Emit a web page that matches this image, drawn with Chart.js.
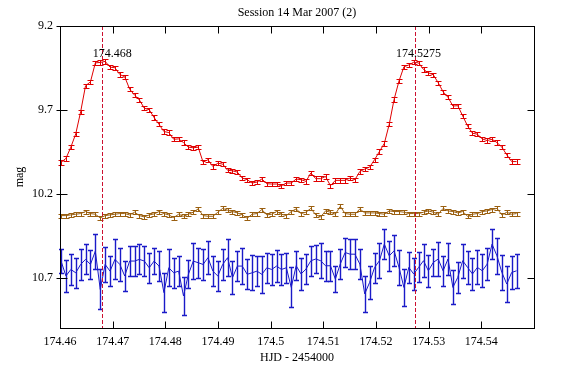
<!DOCTYPE html>
<html>
<head>
<meta charset="utf-8">
<script src="https://cdn.jsdelivr.net/npm/chart.js@4/dist/chart.umd.min.js"></script>
<style>
  body { margin: 0; background: #fff; }
  canvas { display: block; }
</style>
</head>
<body>
<canvas id="lc" width="567" height="367"></canvas>
<script>
// observation times (HJD - 2454000), shared by all three stars
const times = [
  174.46020, 174.46113, 174.46206, 174.46299, 174.46392, 174.46485, 174.46578, 174.46671, 174.46764, 174.46857,
  174.46950, 174.47043, 174.47136, 174.47229, 174.47322, 174.47415, 174.47508, 174.47601, 174.47694, 174.47787,
  174.47880, 174.47973, 174.48066, 174.48159, 174.48252, 174.48345, 174.48438, 174.48531, 174.48624, 174.48717,
  174.48810, 174.48903, 174.48996, 174.49089, 174.49182, 174.49275, 174.49368, 174.49461, 174.49554, 174.49647,
  174.49740, 174.49833, 174.49926, 174.50019, 174.50112, 174.50205, 174.50298, 174.50391, 174.50484, 174.50577,
  174.50670, 174.50763, 174.50856, 174.50949, 174.51042, 174.51135, 174.51228, 174.51321, 174.51414, 174.51507,
  174.51600, 174.51693, 174.51786, 174.51879, 174.51972, 174.52065, 174.52158, 174.52251, 174.52344, 174.52437,
  174.52530, 174.52623, 174.52716, 174.52809, 174.52902, 174.52995, 174.53088, 174.53181, 174.53274, 174.53367,
  174.53460, 174.53553, 174.53646, 174.53739, 174.53832, 174.53925, 174.54018, 174.54111, 174.54204, 174.54297,
  174.54390, 174.54483, 174.54576, 174.54669
];

// variable (red)
const varMag = [
  10.013, 9.989, 9.922, 9.843, 9.711, 9.556, 9.533, 9.420, 9.417, 9.411,
  9.445, 9.449, 9.489, 9.503, 9.576, 9.612, 9.641, 9.690, 9.699, 9.746,
  9.786, 9.829, 9.835, 9.875, 9.873, 9.895, 9.922, 9.926, 9.922, 10.012,
  9.997, 10.038, 10.018, 10.023, 10.060, 10.063, 10.071, 10.106, 10.116, 10.136,
  10.130, 10.112, 10.140, 10.142, 10.142, 10.152, 10.136, 10.136, 10.112, 10.116,
  10.126, 10.076, 10.110, 10.110, 10.097, 10.152, 10.120, 10.120, 10.120, 10.106,
  10.116, 10.067, 10.053, 10.041, 9.997, 9.948, 9.900, 9.786, 9.637, 9.528,
  9.443, 9.432, 9.416, 9.420, 9.459, 9.479, 9.491, 9.538, 9.592, 9.625,
  9.677, 9.675, 9.736, 9.796, 9.839, 9.845, 9.873, 9.883, 9.875, 9.895,
  9.922, 9.968, 10.008, 10.008
];
const varErr = 0.013;

// comparison (brown)
const compMag = [
  10.330, 10.330, 10.326, 10.322, 10.318, 10.306, 10.318, 10.322, 10.344, 10.330,
  10.326, 10.322, 10.318, 10.318, 10.326, 10.310, 10.330, 10.338, 10.326, 10.320,
  10.306, 10.318, 10.326, 10.342, 10.322, 10.334, 10.322, 10.310, 10.290, 10.330,
  10.334, 10.334, 10.310, 10.287, 10.298, 10.306, 10.314, 10.326, 10.346, 10.322,
  10.318, 10.294, 10.326, 10.322, 10.306, 10.322, 10.330, 10.306, 10.290, 10.318,
  10.310, 10.287, 10.326, 10.338, 10.302, 10.310, 10.322, 10.275, 10.318, 10.322,
  10.322, 10.290, 10.314, 10.314, 10.314, 10.318, 10.322, 10.302, 10.306, 10.306,
  10.310, 10.318, 10.318, 10.318, 10.310, 10.302, 10.310, 10.322, 10.287, 10.302,
  10.306, 10.314, 10.306, 10.334, 10.322, 10.318, 10.306, 10.302, 10.294, 10.287,
  10.326, 10.310, 10.322, 10.318
];
const compErr = 0.012;

// check star (blue)
const checkMag = [
  10.601, 10.690, 10.651, 10.671, 10.621, 10.591, 10.621, 10.542, 10.770, 10.621,
  10.661, 10.591, 10.621, 10.690, 10.601, 10.601, 10.591, 10.601, 10.641, 10.601,
  10.631, 10.789, 10.641, 10.671, 10.661, 10.809, 10.680, 10.601, 10.611, 10.621,
  10.581, 10.661, 10.690, 10.621, 10.581, 10.700, 10.631, 10.631, 10.680, 10.671,
  10.661, 10.680, 10.641, 10.651, 10.631, 10.651, 10.641,
  10.758, 10.629, 10.678, 10.649, 10.599, 10.589, 10.599, 10.629, 10.629, 10.708,
  10.619, 10.550, 10.560, 10.560, 10.619, 10.797, 10.728, 10.640, 10.599, 10.500,
  10.570, 10.540, 10.639, 10.758, 10.639, 10.678, 10.639, 10.599, 10.659, 10.609,
  10.589, 10.659, 10.589, 10.758, 10.698, 10.599, 10.639, 10.678, 10.639, 10.659,
  10.619, 10.500, 10.570, 10.669, 10.738, 10.669, 10.659
];
const checkErr = [
  0.070, 0.094, 0.090, 0.089, 0.090, 0.089, 0.084, 0.104, 0.119, 0.104,
  0.090, 0.119, 0.100, 0.089, 0.090, 0.089, 0.090, 0.089, 0.090, 0.079,
  0.090, 0.114, 0.109, 0.090, 0.090, 0.114, 0.084, 0.109, 0.090, 0.090,
  0.099, 0.090, 0.089, 0.090, 0.109, 0.099, 0.090, 0.109, 0.090, 0.104,
  0.090, 0.109, 0.090, 0.090, 0.094, 0.090, 0.090,
  0.119, 0.087, 0.094, 0.089, 0.089, 0.084, 0.105, 0.089, 0.089, 0.077,
  0.089, 0.089, 0.089, 0.089, 0.089, 0.105, 0.097, 0.089, 0.104, 0.090,
  0.089, 0.093, 0.105, 0.109, 0.092, 0.097, 0.089, 0.097, 0.094, 0.082,
  0.101, 0.089, 0.094, 0.101, 0.094, 0.101, 0.099, 0.094, 0.101, 0.099,
  0.095, 0.089, 0.109, 0.104, 0.109, 0.097, 0.101
];

// times of maximum, marked with dashed lines
const maxTimes = [174.468, 174.5275];
const maxLabels = ['174.468', '174.5275'];

const xTicks = [174.46, 174.47, 174.48, 174.49, 174.5, 174.51, 174.52, 174.53, 174.54];
const yTicks = [9.2, 9.7, 10.2, 10.7];

const FONT = { family: "'Liberation Serif', 'Times New Roman', serif", size: 12, weight: 'normal' };

function pts(mags) {
  return times.map((t, i) => ({ x: t, y: mags[i] }));
}

// vertical error bars with small caps
const errorBars = {
  id: 'errorBars',
  afterDatasetsDraw(chart) {
    const { ctx, scales: { x, y } } = chart;
    chart.data.datasets.forEach(ds => {
      if (ds.errors === undefined) return;
      ctx.save();
      ctx.strokeStyle = ds.borderColor;
      ctx.lineWidth = ds.errWidth || 1;
      ds.data.forEach((p, i) => {
        const e = Array.isArray(ds.errors) ? ds.errors[i] : ds.errors;
        const px = Math.round(x.getPixelForValue(p.x)) + 0.5;
        const y1 = Math.round(y.getPixelForValue(p.y - e)) + 0.5;
        const y2 = Math.round(y.getPixelForValue(p.y + e)) + 0.5;
        const c = ds.capWidth || 2.5;
        ctx.beginPath();
        ctx.moveTo(px, y1); ctx.lineTo(px, y2);
        ctx.moveTo(px - c, y1); ctx.lineTo(px + c, y1);
        ctx.moveTo(px - c, y2); ctx.lineTo(px + c, y2);
        ctx.stroke();
      });
      ctx.restore();
    });
  }
};

// frame, inward ticks, maxima markers
const frame = {
  id: 'frame',
  afterDraw(chart) {
    const { ctx, chartArea: a, scales: { x, y } } = chart;
    ctx.save();

    // dashed lines at maxima
    ctx.strokeStyle = '#cc1030';
    ctx.lineWidth = 1;
    ctx.setLineDash([4, 2]);
    maxTimes.forEach(t => {
      const px = Math.round(x.getPixelForValue(t)) + 0.5;
      ctx.beginPath();
      ctx.moveTo(px, a.top);
      ctx.lineTo(px, a.bottom);
      ctx.stroke();
    });
    ctx.setLineDash([]);

    ctx.fillStyle = '#000';
    ctx.font = FONT.size + 'px ' + FONT.family;
    ctx.textAlign = 'center';
    ctx.textBaseline = 'middle';
    const labelShift = [10, 3];
    maxTimes.forEach((t, i) => {
      ctx.fillText(maxLabels[i], x.getPixelForValue(t) + labelShift[i], a.top + 28);
    });

    ctx.strokeStyle = '#000';
    ctx.lineWidth = 1;
    const L = Math.round(a.left) + 0.5, R = Math.round(a.right) + 0.5;
    const T = Math.round(a.top) + 0.5, B = Math.round(a.bottom) + 0.5;
    ctx.strokeRect(L, T, R - L, B - T);

    ctx.beginPath();
    x.ticks.forEach(tk => {
      const px = Math.round(x.getPixelForValue(tk.value)) + 0.5;
      ctx.moveTo(px, T); ctx.lineTo(px, T + 7);
      ctx.moveTo(px, B); ctx.lineTo(px, B - 7);
    });
    y.ticks.forEach(tk => {
      const py = Math.round(y.getPixelForValue(tk.value)) + 0.5;
      ctx.moveTo(L - 4, py); ctx.lineTo(L + 7, py);
      ctx.moveTo(R, py); ctx.lineTo(R - 7, py);
    });
    ctx.stroke();
    ctx.restore();
  }
};

new Chart(document.getElementById('lc'), {
  type: 'line',
  data: {
    datasets: [
      {
        label: 'var', data: pts(varMag), errors: varErr, capWidth: 3,
        borderColor: '#e00000', borderWidth: 1, pointRadius: 0, tension: 0
      },
      {
        label: 'comp', data: pts(compMag), errors: compErr, capWidth: 3,
        borderColor: '#9a5f10', borderWidth: 1, pointRadius: 0, tension: 0
      },
      {
        label: 'check', data: pts(checkMag), errors: checkErr, capWidth: 2.5, errWidth: 1.4,
        borderColor: '#1a1ac8', borderWidth: 1, pointRadius: 0, tension: 0
      }
    ]
  },
  options: {
    responsive: false,
    animation: false,
    events: [],
    layout: { padding: { left: 0, right: 33, top: 0, bottom: 0 } },
    plugins: {
      legend: { display: false },
      tooltip: { enabled: false },
      title: {
        display: true, text: 'Session 14 Mar 2007 (2)', color: '#000', font: FONT,
        fullSize: false, padding: { top: 6, bottom: 5.6 }
      }
    },
    scales: {
      x: {
        type: 'linear', min: 174.46, max: 174.55,
        afterBuildTicks: s => { s.ticks = xTicks.map(v => ({ value: v })); },
        afterFit: s => { s.height = 39; },
        grid: { display: false, drawTicks: false },
        border: { display: false },
        ticks: {
          color: '#000', font: FONT, padding: 7, maxRotation: 0, autoSkip: false,
          callback: v => String(+v.toFixed(4))
        },
        title: { display: true, text: 'HJD - 2454000', color: '#000', font: FONT, padding: { top: 0, bottom: 2 } }
      },
      y: {
        reverse: true, min: 9.2, max: 11.0,
        afterBuildTicks: s => { s.ticks = yTicks.map(v => ({ value: v })); },
        afterFit: s => { s.width = 60; },
        grid: { display: false, drawTicks: false },
        border: { display: false },
        ticks: { color: '#000', font: FONT, padding: 7, callback: v => String(+v.toFixed(2)) },
        title: { display: true, text: 'mag', color: '#000', font: FONT, padding: { top: 13, bottom: 0 } }
      }
    }
  },
  plugins: [errorBars, frame]
});
</script>
</body>
</html>
